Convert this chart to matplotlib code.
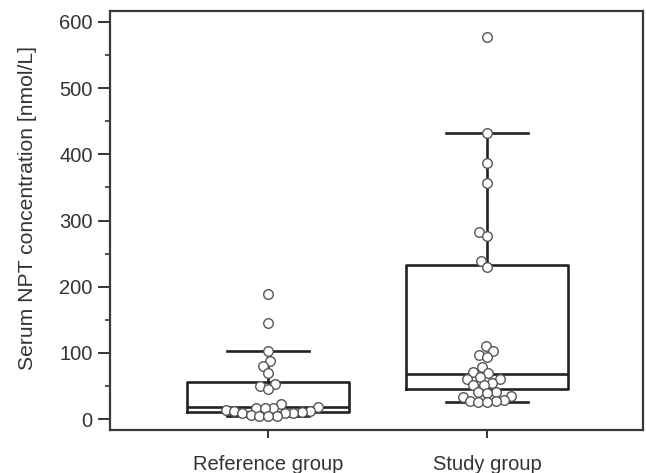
import numpy as np
import matplotlib
matplotlib.use("Agg")
import matplotlib.pyplot as plt

groups = ["Reference group", "Study group"]

reference = [189, 145, 103, 88, 80, 69, 53, 50, 46,
             22, 18, 17, 17, 16, 14, 12, 12,
             10, 9, 9, 9, 6, 5, 5, 4]
study = [577, 432, 387, 356, 282, 276, 239, 230,
         110, 103, 96, 94, 78, 71, 69, 64, 61, 60, 54, 52, 51,
         41, 41, 40, 35, 34, 28, 27, 27, 26, 26]

# box summaries as drawn in the figure
whislo = [5, 26]
q1 = [11, 46]
med = [18, 68]
q3 = [56, 233]
whishi = [103, 432]

YMIN, YMAX = -16.6, 616.6
XMIN, XMAX = -0.721, 1.712
AX_W, AX_H = 533, 419  # axes size in pixels


def swarm(values, d):
    # simple beeswarm, works in pixel units, returns x offsets in pixels
    sy = AX_H / (YMAX - YMIN)
    placed = []
    out = {}
    for i in np.argsort(values):
        y = values[i] * sy
        cands = [0.0]
        for (px, py) in placed:
            dy = y - py
            if abs(dy) < d:
                dx = np.sqrt(d * d - dy * dy)
                cands += [px + dx, px - dx]
        cands.sort(key=lambda c: (abs(c), c))
        for c in cands:
            ok = all((c - px) ** 2 + (y - py) ** 2 >= d * d - 1e-6 for (px, py) in placed)
            if ok:
                break
        placed.append((c, y))
        out[i] = c
    return np.array([out[i] for i in range(len(values))])


plt.rcParams["font.family"] = ["Liberation Sans", "DejaVu Sans"]
plt.rcParams["font.size"] = 14.5
plt.rcParams["text.color"] = "#333333"
plt.rcParams["axes.labelcolor"] = "#333333"
plt.rcParams["xtick.color"] = "#333333"
plt.rcParams["ytick.color"] = "#333333"

fig = plt.figure(figsize=(6.46, 4.73), dpi=100)
ax = fig.add_axes([110 / 646, 43 / 473, AX_W / 646, AX_H / 473])

stats = []
for i in range(len(groups)):
    stats.append({"whislo": whislo[i], "q1": q1[i], "med": med[i],
                  "q3": q3[i], "whishi": whishi[i], "fliers": []})

line = dict(color="#222222", linewidth=1.9)
ax.bxp(stats, positions=[0, 1], widths=0.74, capwidths=0.375,
       showfliers=False, boxprops=line, whiskerprops=line,
       capprops=line, medianprops=line, manage_ticks=False)

sx = AX_W / (XMAX - XMIN)
for pos, vals in enumerate([reference, study]):
    vals = np.array(vals, dtype=float)
    off = swarm(vals, 8.6) / sx
    ax.plot(pos + off, vals, "o", ms=6.9, mfc="white", mec="#555555",
            mew=1.0, zorder=5, clip_on=False)

ax.set_xlim(XMIN, XMAX)
ax.set_ylim(YMIN, YMAX)
ax.set_xticks([0, 1])
ax.set_xticklabels(groups)
ax.set_yticks(np.arange(0, 601, 100))
ax.set_yticks(np.arange(50, 600, 100), minor=True)
ax.set_ylabel("Serum NPT concentration [nmol/L]", labelpad=16, fontsize=15.2)
ax.yaxis.label.set_y(0.53)

for s in ax.spines.values():
    s.set_color("#3a3a3a")
    s.set_linewidth(1.6)
ax.tick_params(axis="both", which="major", length=8.5, width=1.4, pad=4)
ax.tick_params(axis="y", which="minor", length=3.5, width=1.2)
ax.tick_params(axis="x", which="major", length=6, pad=12)

fig.savefig("out.png", dpi=100)
